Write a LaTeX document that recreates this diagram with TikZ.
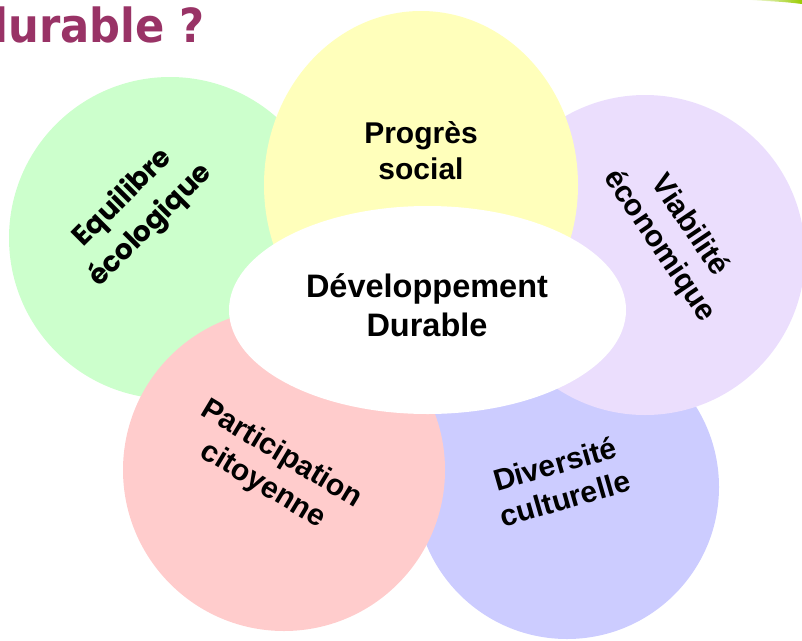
\documentclass[tikz,border=0pt]{standalone}
\usepackage{fontspec}
\setmainfont{Liberation Sans}
\newfontfamily\titlefont[FakeStretch=0.92]{DejaVu Sans}
\newfontfamily\ecofont{Poppins}
\usetikzlibrary{shapes.geometric}

\definecolor{ecogreen}{HTML}{CCFFCC}
\definecolor{socyellow}{HTML}{FFFFBB}
\definecolor{econpurple}{HTML}{EBDEFD}
\definecolor{cultblue}{HTML}{CCCCFF}
\definecolor{citpink}{HTML}{FFCCCC}
\definecolor{titleplum}{HTML}{993366}
\definecolor{swooshgreen}{HTML}{99CC00}

\begin{document}
\begin{tikzpicture}[x=1pt,y=-1pt,
    petal/.style={ellipse,inner sep=0pt,outer sep=0pt},
    lbl/.style={align=center,inner sep=0pt,font=\bfseries\fontsize{30}{36}\selectfont}]
    \useasboundingbox (0,0) rectangle (802,640);
    \clip (0,0) rectangle (802,640);

    % title and corner swoosh
    \node[anchor=base east,inner sep=0pt,text=titleplum,
        font=\titlefont\bfseries\fontsize{47}{56}\selectfont] (title) at (205,42) {durable ?};
    \shade[left color=white,right color=swooshgreen]
        (748,0) -- (802,0) -- (802,4) .. controls (785,2) .. (748,0) -- cycle;

    % petals
    \node[petal,fill=ecogreen,minimum width=322pt,minimum height=322pt] (eco) at (170,238) {};
    \node[petal,fill=cultblue,minimum width=304pt,minimum height=304pt] (cult) at (567,487) {};
    \node[petal,fill=econpurple,minimum width=320pt,minimum height=320pt] (econ) at (645,255) {};
    \node[petal,fill=citpink,minimum width=322pt,minimum height=322pt] (cit) at (284,470) {};
    \node[petal,fill=socyellow,minimum width=314pt,minimum height=348pt] (soc) at (421,185) {};
    \node[petal,fill=white,minimum width=397pt,minimum height=208pt] (dd) at (427.5,310) {};

    % labels
    \node[lbl,font=\ecofont\bfseries\fontsize{28}{39}\selectfont,rotate=45] (eco-lbl) at (137,212) {Equilibre\\écologique};
    \node[lbl] (soc-lbl) at (421,151) {Progrès\\social};
    \node[lbl,rotate=-56] (econ-lbl) at (674,236) {Viabilité\\économique};
    \node[lbl,rotate=-31] (cit-lbl) at (272,470) {Participation\\citoyenne};
    \node[lbl,rotate=16] (cult-lbl) at (560,481) {Diversité\\culturelle};
    \node[lbl,font=\bfseries\fontsize{32.5}{39}\selectfont] (dd-lbl) at (427,305) {Développement\\Durable};
\end{tikzpicture}
\end{document}
